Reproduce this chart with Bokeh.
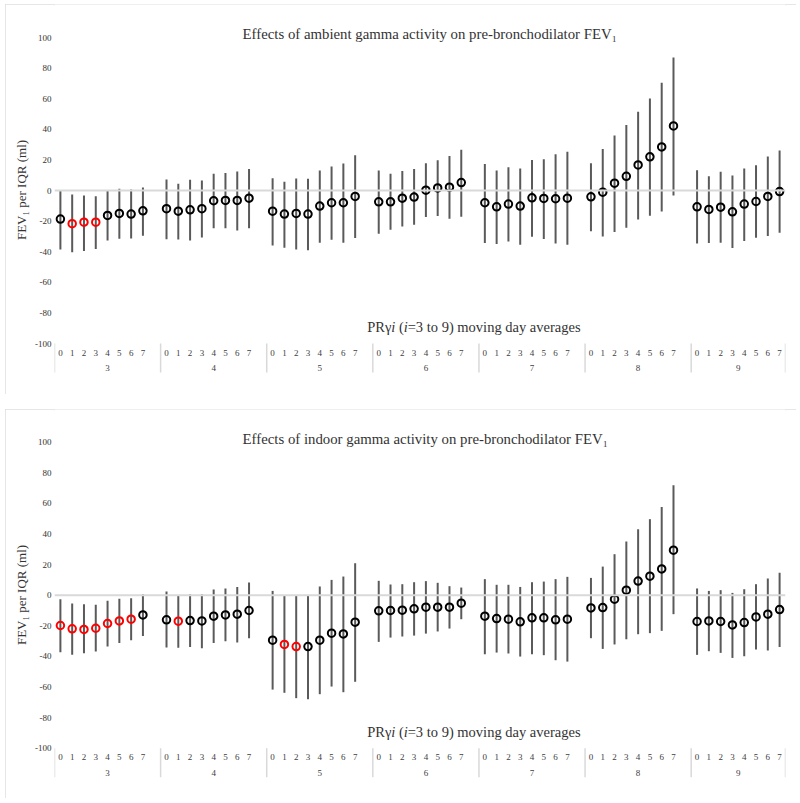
from bokeh.plotting import figure
from bokeh.layouts import column
from bokeh.models import Range1d, FixedTicker, Span, ColumnDataSource
from bokeh.core.properties import value
from bokeh.embed import file_html
from bokeh.resources import INLINE

# ---------------- data ----------------
groups = ["3", "4", "5", "6", "7", "8", "9"]
lags = ["0", "1", "2", "3", "4", "5", "6", "7"]

ytick_values = [-100, -80, -60, -40, -20, 0, 20, 40, 60, 80, 100]
ytick_labels = ["-100", "-80", "-60", "-40", "-20", "0", "20", "40", "60", "80", "100"]

ambient_est = [
    -18.7, -21.7, -20.7, -20.7, -16.3, -15.0, -15.4, -13.3,
    -11.9, -13.5, -12.6, -11.9, -6.7, -6.5, -6.5, -5.0,
    -13.5, -15.4, -15.0, -15.4, -10.2, -8.0, -8.0, -3.9,
    -7.4, -7.4, -5.0, -4.3, 0.2, 1.7, 2.2, 5.2,
    -8.0, -10.7, -8.9, -10.2, -4.8, -5.2, -5.4, -5.0,
    -4.1, -1.1, 4.8, 9.3, 16.7, 22.0, 28.5, 42.2,
    -10.7, -12.4, -10.9, -13.9, -8.9, -7.2, -3.9, -0.7]
ambient_lo = [
    -38.5, -40.4, -39.6, -38.3, -32.6, -31.5, -31.3, -29.6,
    -31.9, -32.1, -32.6, -30.8, -24.6, -24.6, -26.1, -24.6,
    -35.9, -37.4, -38.5, -39.1, -34.1, -32.2, -34.1, -31.1,
    -28.3, -25.7, -23.5, -22.4, -17.4, -16.7, -18.5, -17.2,
    -34.3, -35.0, -33.3, -35.4, -30.2, -31.7, -34.6, -35.4,
    -26.7, -30.0, -27.2, -24.3, -18.9, -16.5, -13.7, -3.3,
    -34.6, -34.3, -34.1, -37.6, -33.0, -30.9, -29.8, -27.6]
ambient_hi = [
    0.4, -2.6, -3.3, -3.7, 0.0, 1.1, 0.7, 2.0,
    7.2, 4.4, 7.0, 6.5, 11.0, 11.5, 12.4, 14.1,
    8.0, 5.7, 7.8, 7.6, 13.0, 15.7, 17.6, 23.0,
    13.0, 10.9, 12.8, 14.1, 17.8, 19.8, 22.6, 26.7,
    17.4, 13.0, 15.2, 14.3, 20.0, 20.4, 23.7, 25.4,
    17.8, 27.2, 35.9, 42.8, 51.5, 60.2, 70.4, 87.0,
    13.3, 9.3, 12.2, 9.8, 14.3, 16.5, 22.2, 26.1]
ambient_sig = [
    0, 1, 1, 1, 0, 0, 0, 0,
    0, 0, 0, 0, 0, 0, 0, 0,
    0, 0, 0, 0, 0, 0, 0, 0,
    0, 0, 0, 0, 0, 0, 0, 0,
    0, 0, 0, 0, 0, 0, 0, 0,
    0, 0, 0, 0, 0, 0, 0, 0,
    0, 0, 0, 0, 0, 0, 0, 0]

indoor_est = [
    -19.8, -22.0, -22.4, -21.6, -18.5, -16.8, -15.7, -12.9,
    -16.1, -17.0, -16.6, -16.8, -13.7, -12.9, -12.4, -10.0,
    -29.4, -32.2, -33.6, -33.6, -29.4, -24.8, -25.3, -17.6,
    -10.2, -10.0, -9.8, -8.9, -7.8, -7.8, -7.8, -5.2,
    -13.7, -15.3, -15.7, -17.4, -14.8, -14.8, -16.1, -15.7,
    -8.3, -8.1, -2.6, 3.3, 9.2, 12.4, 17.2, 29.4,
    -17.2, -16.8, -17.2, -19.4, -17.9, -14.2, -12.4, -9.4]
indoor_lo = [
    -37.3, -39.0, -37.9, -36.8, -33.6, -31.2, -29.4, -26.6,
    -34.2, -34.4, -33.8, -34.6, -31.2, -30.1, -30.9, -28.1,
    -61.7, -63.8, -67.3, -68.0, -64.7, -59.7, -63.4, -56.6,
    -30.5, -27.7, -27.0, -26.4, -25.1, -23.7, -21.8, -15.7,
    -38.6, -37.5, -38.1, -40.1, -38.6, -39.2, -42.5, -43.4,
    -28.1, -35.1, -32.2, -28.8, -25.5, -24.8, -23.3, -12.4,
    -39.0, -36.6, -37.7, -41.0, -39.9, -35.5, -36.2, -33.8]
indoor_hi = [
    -2.6, -5.4, -5.9, -6.3, -3.7, -2.4, -2.0, 0.7,
    2.4, -0.2, 0.7, 0.7, 3.7, 4.4, 5.4, 8.3,
    2.8, -0.4, 0.0, 0.0, 5.7, 10.0, 12.2, 20.9,
    9.4, 7.0, 7.2, 8.5, 9.2, 8.1, 5.9, 5.0,
    10.5, 6.8, 6.8, 5.4, 8.5, 8.9, 10.5, 12.0,
    11.3, 18.7, 26.8, 35.1, 43.1, 49.7, 57.7, 71.9,
    4.4, 2.8, 3.3, 1.5, 3.9, 7.2, 10.9, 14.6]
indoor_sig = [
    1, 1, 1, 1, 1, 1, 1, 0,
    0, 1, 0, 0, 0, 0, 0, 0,
    0, 1, 1, 0, 0, 0, 0, 0,
    0, 0, 0, 0, 0, 0, 0, 0,
    0, 0, 0, 0, 0, 0, 0, 0,
    0, 0, 0, 0, 0, 0, 0, 0,
    0, 0, 0, 0, 0, 0, 0, 0]

ambient_title = "Effects of ambient gamma activity on pre-bronchodilator FEV\u2081"
indoor_title = "Effects of indoor gamma activity on pre-bronchodilator FEV\u2081"
y_title = "FEV\u2081 per IQR (ml)"
x_title_parts = ["PR\u03b3", "i", "(", "i", "=3 to 9) moving day averages"]
x_title_italic = [False, True, False, True, False]

# ---------------- layout constants ----------------
SERIF = "Liberation Serif"
PX_PER_UNIT = 1.53
SLOTS_PER_GROUP = 9          # 8 lags + one empty slot (as in the Excel source)
N_SLOTS = SLOTS_PER_GROUP * (len(groups) - 1) + len(lags)


def slot_x(gi, li):
    return gi * SLOTS_PER_GROUP + li + 0.5


def make_panel(title, est, lo, hi, sig, height, top_offset_px, bottom_border, margin):
    ymax = 100 + top_offset_px / PX_PER_UNIT
    ymin = ymax - (height - bottom_border) / PX_PER_UNIT
    p = figure(width=791, height=height,
               x_range=Range1d(0, N_SLOTS), y_range=Range1d(ymin, ymax),
               output_backend="svg", toolbar_location=None,
               x_axis_location=None,
               min_border_left=49, min_border_right=11,
               min_border_top=0, min_border_bottom=bottom_border,
               outline_line_color=None, margin=margin,
               background_fill_color="white", border_fill_color="white")
    p.styles = {"outline": "2px solid #dedede", "outline-offset": "-2px"}
    p.grid.visible = False

    ya = p.yaxis[0]
    ya.ticker = FixedTicker(ticks=ytick_values, minor_ticks=[])
    ya.major_label_overrides = {v: s for v, s in zip(ytick_values, ytick_labels)}
    ya.axis_line_color = None
    ya.major_tick_line_color = None
    ya.minor_tick_line_color = None
    ya.major_tick_out = 0
    ya.major_label_standoff = 3
    ya.major_label_text_font = SERIF
    ya.major_label_text_font_size = "9px"
    ya.major_label_text_color = "#333333"
    ya.axis_label = y_title
    ya.axis_label_standoff = 3
    ya.axis_label_text_font = SERIF
    ya.axis_label_text_font_size = "13px"
    ya.axis_label_text_font_style = "normal"
    ya.axis_label_text_color = "#333333"

    # zero line
    p.add_layout(Span(location=0, dimension="width", line_color="#d9d9d9", line_width=2))

    xs, ests, los, his, cols = [], [], [], [], []
    for gi in range(len(groups)):
        for li in range(len(lags)):
            k = gi * len(lags) + li
            xs.append(slot_x(gi, li))
            ests.append(est[k])
            los.append(lo[k])
            his.append(hi[k])
            cols.append("#ff0000" if sig[k] else "#000000")
    src = ColumnDataSource(dict(x=xs, est=ests, lo=los, hi=his, col=cols))
    p.segment(x0="x", y0="lo", x1="x", y1="hi", source=src,
              line_color="#5a5a5a", line_width=2)
    p.scatter(x="x", y="est", source=src, marker="circle", size=7.5,
              fill_color=None, line_color="col", line_width=2)

    # category axis (Excel multi-level style), drawn inside the extended range
    lag_x, lag_t = [], []
    for gi in range(len(groups)):
        for li, l in enumerate(lags):
            lag_x.append(slot_x(gi, li))
            lag_t.append(l)
    p.text(x=lag_x, y=[-106.0] * len(lag_x), text=lag_t,
           text_font=value(SERIF), text_font_size="9px", text_color="#404040",
           text_align="center", text_baseline="middle")
    seps = [gi * SLOTS_PER_GROUP for gi in range(len(groups))] + [N_SLOTS]
    p.segment(x0=seps, y0=[-100] * len(seps), x1=seps, y1=[-119] * len(seps),
              line_color="#d9d9d9", line_width=1.5)
    gx = [(seps[i] + seps[i + 1]) / 2 for i in range(len(groups))]
    p.text(x=gx, y=[-116.0] * len(gx), text=groups,
           text_font=value(SERIF), text_font_size="9px", text_color="#404040",
           text_align="center", text_baseline="middle")

    # chart title
    p.text(x=[15.95], y=[102.3], text=[title],
           text_font=value(SERIF), text_font_size="14.8px", text_color="#333333",
           text_align="left", text_baseline="alphabetic")

    # axis title (mixed roman / italic); offsets in screen px
    offsets = [0.0, 24.1, 31.7, 36.5, 40.5]
    for part, it, off in zip(x_title_parts, x_title_italic, offsets):
        p.text(x=[26.52], y=[-89.2], text=[part], x_offset=off,
               text_font=value(SERIF), text_font_size="14.5px",
               text_font_style="italic" if it else "normal",
               text_color="#333333", text_align="left", text_baseline="alphabetic")
    return p


p1 = make_panel(ambient_title, ambient_est, ambient_lo, ambient_hi, ambient_sig,
                390, 33, 19, (4, 4, 0, 5))
p2 = make_panel(indoor_title, indoor_est, indoor_lo, indoor_hi, indoor_sig,
                389, 32.7, 18, (15, 4, 0, 5))

layout = column(p1, p2, spacing=0)
open("out.html", "w").write(file_html(layout, INLINE))
